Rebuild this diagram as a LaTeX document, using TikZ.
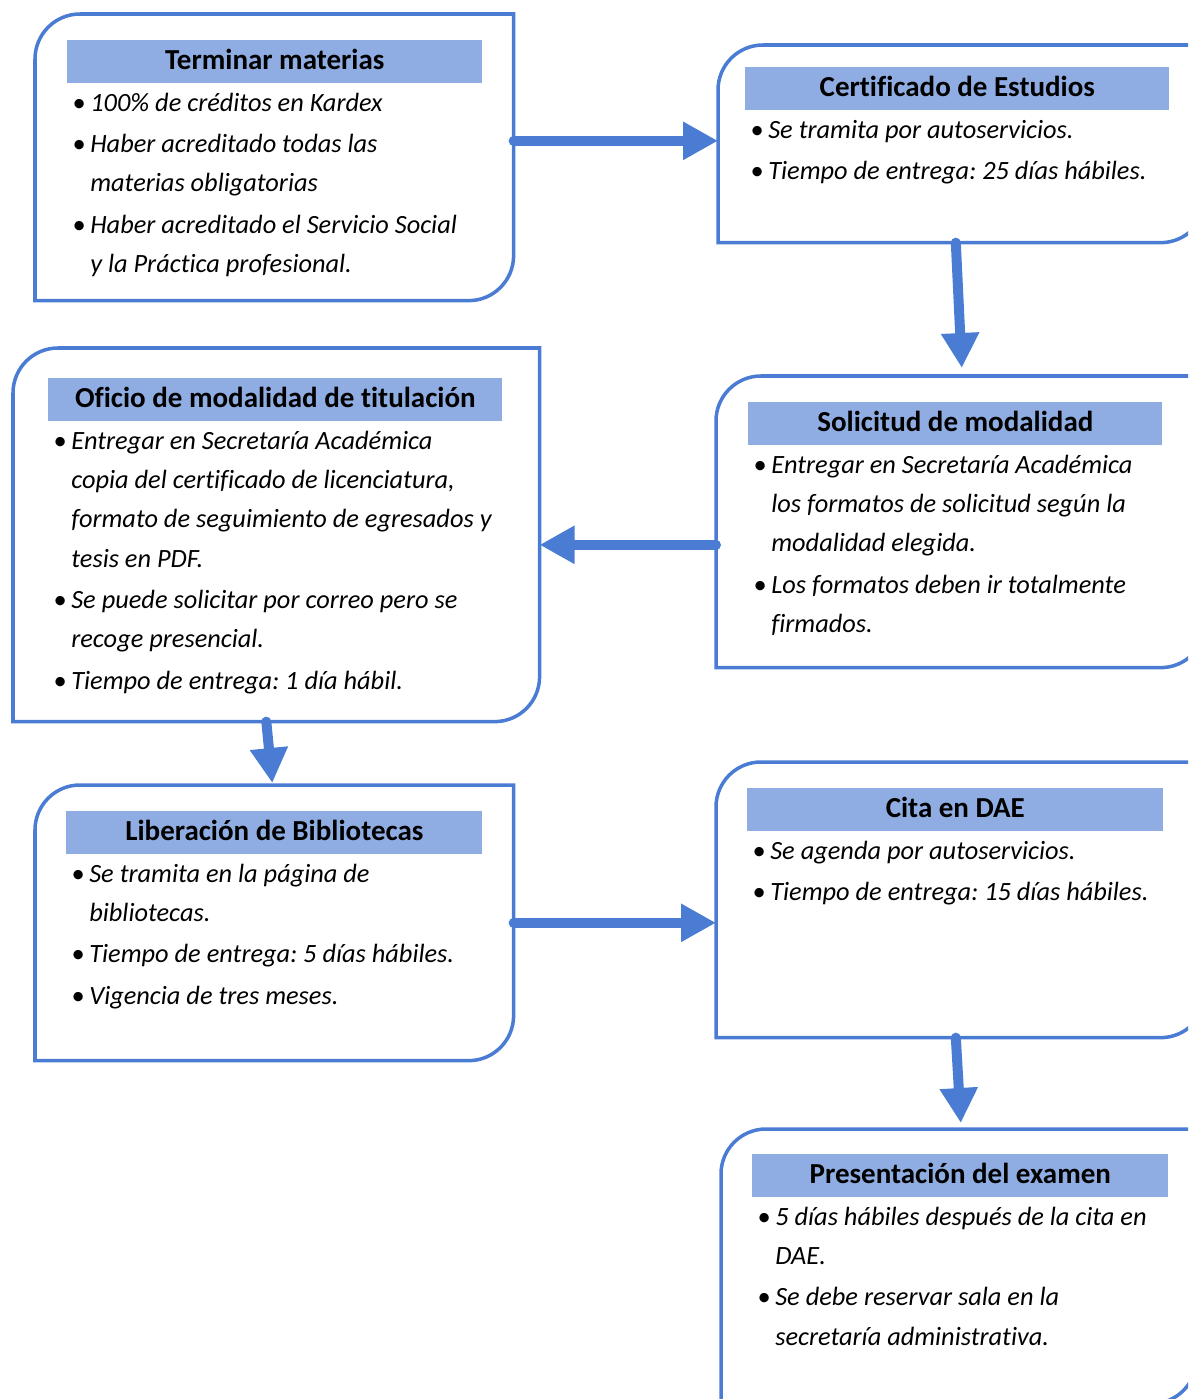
\documentclass[tikz,border=0pt]{standalone}
\usepackage{fontspec}
\setmainfont{Carlito}[Ligatures=NoCommon]
\usetikzlibrary{positioning, calc, arrows.meta}
\frenchspacing
\definecolor{azul}{HTML}{4A7CD3}
\definecolor{azulclaro}{HTML}{8FADE2}
\tikzset{caja/.style={anchor=north west, inner sep=0pt},
	titulo/.style={fill=azulclaro, anchor=north west, inner sep=0pt,
		minimum height=0.85cm, text height=0.43cm, text depth=0.1cm,
		font=\bfseries\fontsize{16.5}{20}\selectfont},
	texto/.style={align=left, inner sep=0pt, font=\itshape\fontsize{15}{22.4}\selectfont},
	borde/.style={draw=azul, line width=2pt},
	flecha/.style={draw=azul, line width=0.2cm, line cap=round,
		-{Triangle[length=0.7cm, width=0.72cm]}},
}
\newcommand{\bul}{\makebox[0.36cm][l]{\textbullet}}
\newcommand{\sang}{\hspace*{0.36cm}}
\newcommand{\contorno}[1]{\draw[borde] (#1.west) [rounded corners=0.9cm] -- (#1.north west) [sharp corners] -- (#1.north east) [rounded corners=0.9cm] -- (#1.south east) [sharp corners] -- (#1.south west) -- cycle;}

\begin{document}
\begin{tikzpicture}[x=0.02cm, y=-0.02cm]
		\useasboundingbox (0,0) rectangle (1188,1399);
		\clip (0,0) rectangle (1188,1399);
		%\draw[very thin, gray!50] (0,0) grid[step=1cm] (1188,1399);
		% cajas
		\node[caja, minimum width=9.56cm, minimum height=5.72cm] (term) at (35,14) {};
		\node[caja, minimum width=9.74cm, minimum height=3.94cm] (cert) at (718,45) {};
		\node[caja, minimum width=9.78cm, minimum height=5.82cm] (soli) at (716,376) {};
		\node[caja, minimum width=10.52cm, minimum height=7.46cm] (ofic) at (13,348) {};
		\node[caja, minimum width=9.56cm, minimum height=5.5cm] (libe) at (35,785) {};
		\node[caja, minimum width=9.78cm, minimum height=5.5cm] (cita) at (716,762) {};
		\node[caja, minimum width=9.5cm, minimum height=5.48cm] (pres) at (721,1129) {};
		\foreach \c in {term, cert, soli, ofic, libe, cita, pres}
			\contorno{\c};
		% titulos
		\node[titulo, minimum width=8.3cm] (tterm) at ([shift={(32,26)}]term.north west) {Terminar materias};
		\node[titulo, minimum width=8.48cm] (tcert) at ([shift={(27,22)}]cert.north west) {Certificado de Estudios};
		\node[titulo, minimum width=8.28cm] (tsoli) at ([shift={(32,26)}]soli.north west) {Solicitud de modalidad};
		\node[titulo, minimum width=9.08cm] (tofic) at ([shift={(35,30)}]ofic.north west) {Oficio de modalidad de titulación};
		\node[titulo, minimum width=8.32cm] (tlibe) at ([shift={(31,26)}]libe.north west) {Liberación de Bibliotecas};
		\node[titulo, minimum width=8.32cm] (tcita) at ([shift={(31,26)}]cita.north west) {Cita en DAE};
		\node[titulo, minimum width=8.32cm] (tpres) at ([shift={(31,25)}]pres.north west) {Presentación del examen};
		% textos
		\node[texto, below right=0cm and 0.1cm of tterm.south west] (bterm) {\strut\bul 100\% de créditos en Kardex\\[0.04cm]
			\bul Haber acreditado todas las\\ \sang materias obligatorias\\[0.04cm]
			\bul Haber acreditado el Servicio Social\\ \sang y la Práctica profesional.};
		\node[texto, below right=0cm and 0.1cm of tcert.south west] (bcert) {\strut\bul Se tramita por autoservicios.\\[0.04cm]
			\bul Tiempo de entrega: 25 días hábiles.};
		\node[texto, below right=0cm and 0.1cm of tsoli.south west] (bsoli) {\strut\bul Entregar en Secretaría Académica\\
			\sang los formatos de solicitud según la\\ \sang modalidad elegida.\\[0.04cm]
			\bul Los formatos deben ir totalmente\\ \sang firmados.};
		\node[texto, below right=0cm and 0.1cm of tofic.south west] (bofic) {\strut\bul Entregar en Secretaría Académica\\
			\sang copia del certificado de licenciatura,\\ \sang formato de seguimiento de egresados y\\
			\sang tesis en PDF.\\[0.04cm]
			\bul Se puede solicitar por correo pero se\\ \sang recoge presencial.\\[0.04cm]
			\bul Tiempo de entrega: 1 día hábil.};
		\node[texto, below right=0cm and 0.1cm of tlibe.south west] (blibe) {\strut\bul Se tramita en la página de\\
			\sang bibliotecas.\\[0.04cm]
			\bul Tiempo de entrega: 5 días hábiles.\\[0.04cm]
			\bul Vigencia de tres meses.};
		\node[texto, below right=0cm and 0.1cm of tcita.south west] (bcita) {\strut\bul Se agenda por autoservicios.\\[0.04cm]
			\bul Tiempo de entrega: 15 días hábiles.};
		\node[texto, below right=0cm and 0.1cm of tpres.south west] (bpres) {\strut\bul 5 días hábiles después de la cita en\\
			\sang DAE.\\[0.04cm]
			\bul Se debe reservar sala en la\\ \sang secretaría administrativa.};
		% flechas
		\draw[flecha] ($(term.east |- cert.west)+(0,-3)$) coordinate (s1) -- (cert.west |- s1);
		\draw[flecha] ($(cert.south)+(-6,0)$) -- ($(soli.north)+(1,-8)$);
		\draw[flecha] ($(soli.west)+(0,23)$) coordinate (s3) -- (ofic.east |- s3);
		\draw[flecha] ($(ofic.south)+(-10,0)$) -- ($(libe.north)+(-2,-2)$);
		\draw[flecha] (libe.east) -- (cita.west |- libe.east);
		\draw[flecha] ($(cita.south)+(-5,0)$) -- ($(pres.north)+(2,-6)$);
	\end{tikzpicture}
\end{document}
